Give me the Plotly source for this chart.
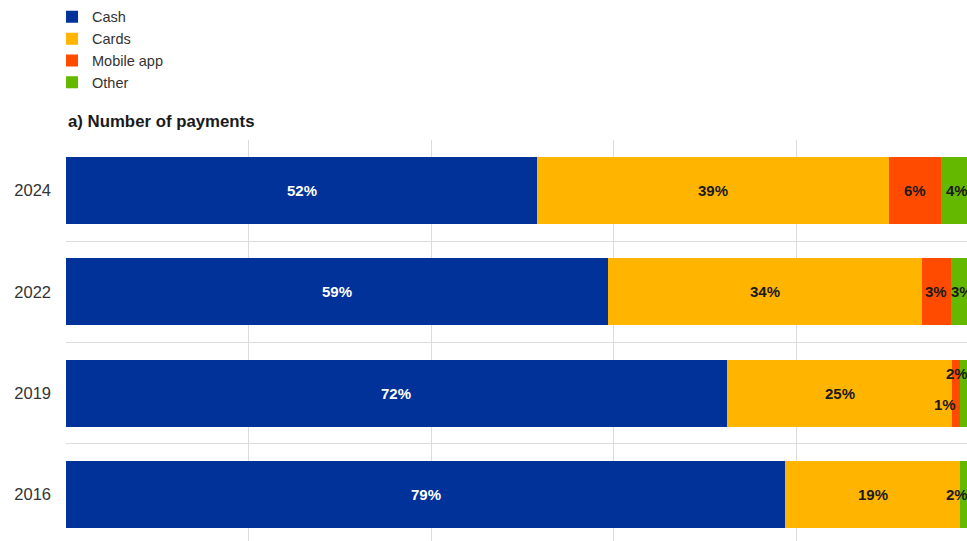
import plotly.graph_objects as go

years = ["2016", "2019", "2022", "2024"]
cash = [78.8, 72.4, 59.4, 51.6]
cards = [19.1, 24.7, 34.4, 38.6]
mobile = [None, 0.8, 3.1, 5.7]
other = [2.1, 2.1, 3.1, 4.1]

series = [
    ("Cash", cash, "#003299", "white"),
    ("Cards", cards, "#FFB400", "#1a1a1a"),
    ("Mobile app", mobile, "#FF4B00", "#1a1a1a"),
    ("Other", other, "#65B800", "#1a1a1a"),
]

X_MAX = 98.7          # visible part of the 0-100% axis
LABEL_X_LIMIT = 97.9  # keep labels inside the visible plot

# label nudges (pixels) for crowded segments, keyed by (series, year)
label_shift = {
    ("Other", "2016"): (-3, 0),
    ("Other", "2019"): (-3, 20),
    ("Mobile app", "2019"): (-11, -11),
    ("Other", "2022"): (2, 0),
    ("Other", "2024"): (-3, 0),
}

FONT = "Liberation Sans, Arial, sans-serif"

fig = go.Figure()
for name, vals, color, _ in series:
    fig.add_trace(go.Bar(
        y=years, x=vals, name=name, orientation="h",
        marker=dict(color=color, line=dict(width=0)),
        hoverinfo="x+name",
    ))

annotations = []
base = [0.0] * len(years)
for name, vals, color, tcolor in series:
    for i, y in enumerate(years):
        v = vals[i]
        if v is None:
            continue
        xs, ys = label_shift.get((name, y), (0, 0))
        annotations.append(dict(
            x=min(base[i] + v / 2, LABEL_X_LIMIT), y=i, xref="x", yref="y",
            text=f"<b>{round(v):d}%</b>", showarrow=False,
            font=dict(family=FONT, size=15, color=tcolor),
            xshift=xs, yshift=ys,
        ))
        base[i] += v

annotations.append(dict(
    x=0, y=1, xref="paper", yref="paper", xanchor="left", yanchor="bottom",
    yshift=7, text="<b>a) Number of payments</b>", showarrow=False,
    font=dict(family=FONT, size=16.8, color="#1a1a1a"),
))

fig.update_layout(
    barmode="stack",
    bargap=0.34,
    width=967, height=541,
    margin=dict(l=66, r=0, t=140, b=0, pad=0, autoexpand=False),
    paper_bgcolor="white", plot_bgcolor="white",
    font=dict(family=FONT, size=13, color="#333333"),
    annotations=annotations,
    showlegend=True,
    legend=dict(
        x=-0.0155, y=1.347, xanchor="left", yanchor="top",
        orientation="v", traceorder="normal",
        font=dict(family=FONT, size=14.5, color="#333333"),
        bgcolor="rgba(0,0,0,0)", tracegroupgap=0,
    ),
    xaxis=dict(
        range=[0, X_MAX], showgrid=True, gridcolor="#dcdcdc", gridwidth=1,
        dtick=20, showticklabels=False, zeroline=False, showline=False,
        ticks="",
    ),
    yaxis=dict(
        type="category", categoryorder="array", categoryarray=years,
        range=[-0.46, 3.5], tickson="boundaries", showgrid=True,
        gridcolor="#dcdcdc", gridwidth=1, ticks="", showline=False,
        ticklabelstandoff=14,
        tickfont=dict(family=FONT, size=16.5, color="#333333"),
    ),
)

fig.write_html(
    "out.html",
    config={"displayModeBar": False},
    post_script="document.body.style.margin='0';document.body.style.overflow='hidden';",
)
